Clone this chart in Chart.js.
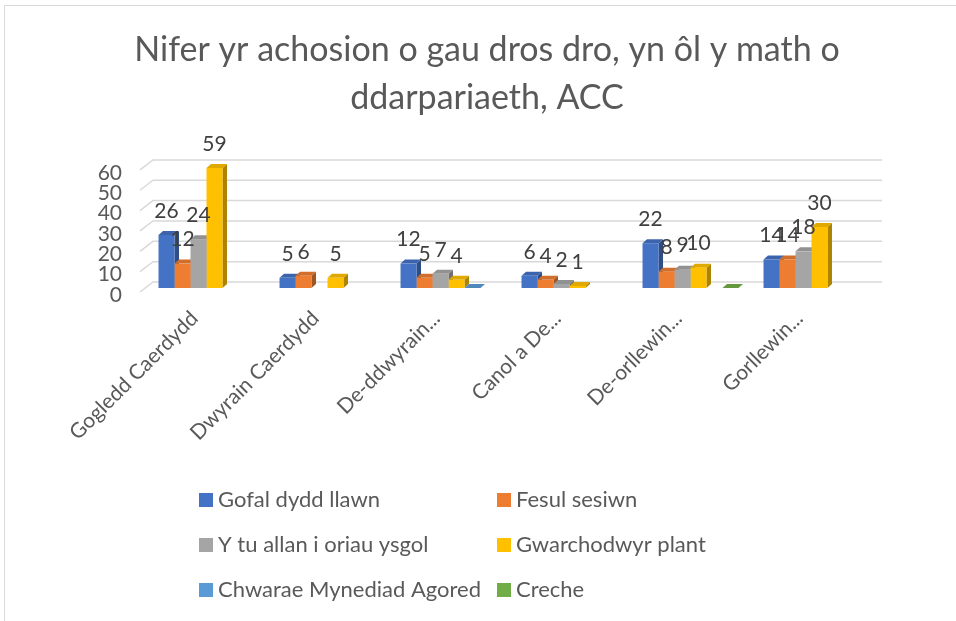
<!DOCTYPE html>
<html>
<head>
<meta charset="utf-8">
<title>Nifer yr achosion o gau dros dro</title>
<script src="https://cdn.jsdelivr.net/npm/chart.js@4.4.1/dist/chart.umd.min.js"></script>
<style>
  html, body { margin: 0; padding: 0; background: #fff; overflow: hidden; }
  /* the chart's outer frame only shows on its top and left edge */
  #frame { position: absolute; left: 4px; top: 5px; width: 1000px; height: 700px;
           border-top: 1px solid #d9d9d9; border-left: 1px solid #d9d9d9; }
  #chartWrap { position: absolute; left: 0; top: 0; width: 956px; height: 621px; }
</style>
</head>
<body>
<div id="frame"></div>
<div id="chartWrap"><canvas id="dataChart" width="956" height="621"></canvas></div>
<script>
// Data
const titleLines = ['Nifer yr achosion o gau dros dro, yn ôl y math o', 'ddarpariaeth, ACC'];
const categories = ['Gogledd Caerdydd', 'Dwyrain Caerdydd', 'De-ddwyrain...', 'Canol a De...', 'De-orllewin...', 'Gorllewin...'];
const seriesNames = ['Gofal dydd llawn', 'Fesul sesiwn', 'Y tu allan i oriau ysgol', 'Gwarchodwyr plant', 'Chwarae Mynediad Agored', 'Creche'];
const gofalDydd   = [26, 5, 12, 6, 22, 14];
const fesulSesiwn = [12, 6, 5, 4, 8, 14];
const tuAllan     = [24, null, 7, 2, 9, 18];
const gwarchodwyr = [59, 5, 4, 1, 10, 30];
const chwarae     = [null, null, 0, null, null, null];
const creche      = [null, null, null, null, 0, null];
const yTicks = [0, 10, 20, 30, 40, 50, 60];

const seriesColors = ['#4472c4', '#ed7d31', '#a5a5a5', '#ffc000', '#5b9bd5', '#70ad47'];
const seriesValues = [gofalDydd, fesulSesiwn, tuAllan, gwarchodwyr, chwarae, creche];

const FONT = "Lato, 'Open Sans', sans-serif";
const TEXT = '#595959';
const depthX = 4.5;   // fake 3d depth of the bars
const depthY = 4;

Chart.defaults.font.family = FONT;
Chart.defaults.color = TEXT;

// darken a hex colour by a factor
function shade(hex, f) {
  const n = parseInt(hex.slice(1), 16);
  const r = Math.round(((n >> 16) & 255) * f);
  const g = Math.round(((n >> 8) & 255) * f);
  const b = Math.round((n & 255) * f);
  return `rgb(${r},${g},${b})`;
}

// gridlines drawn on the back wall with a slanted bit on the floor edge
const floorGrid = {
  id: 'floorGrid',
  beforeDatasetsDraw(chart) {
    const ctx = chart.ctx;
    const area = chart.chartArea;
    const y = chart.scales.y;
    ctx.save();
    ctx.strokeStyle = '#d9d9d9';
    ctx.lineWidth = 1.5;
    yTicks.forEach(v => {
      const py = y.getPixelForValue(v);
      ctx.beginPath();
      ctx.moveTo(area.left - 6, py + 4);
      ctx.lineTo(area.left + 7, py - 6);
      ctx.lineTo(area.right + 10, py - 6);
      ctx.stroke();
    });
    ctx.restore();
  }
};

// side and top faces, drawn before the flat fronts so the next bar covers them
const barFaces = {
  id: 'barFaces',
  beforeDatasetsDraw(chart) {
    const ctx = chart.ctx;
    ctx.save();
    chart.data.datasets.forEach((ds, i) => {
      const meta = chart.getDatasetMeta(i);
      meta.data.forEach((bar, j) => {
        if (ds.data[j] === null) return;
        const left = bar.x - bar.width / 2;
        const right = bar.x + bar.width / 2;
        const top = bar.y;
        const base = bar.base;
        // right side
        ctx.fillStyle = shade(ds.backgroundColor, 0.68);
        ctx.beginPath();
        ctx.moveTo(right, base);
        ctx.lineTo(right + depthX, base - depthY);
        ctx.lineTo(right + depthX, top - depthY);
        ctx.lineTo(right, top);
        ctx.closePath();
        ctx.fill();
        // top
        ctx.fillStyle = shade(ds.backgroundColor, 0.88);
        ctx.beginPath();
        ctx.moveTo(left, top);
        ctx.lineTo(right, top);
        ctx.lineTo(right + depthX, top - depthY);
        ctx.lineTo(left + depthX, top - depthY);
        ctx.closePath();
        ctx.fill();
      });
    });
    ctx.restore();
  }
};

// value labels above each bar
const valueLabels = {
  id: 'valueLabels',
  afterDatasetsDraw(chart) {
    const ctx = chart.ctx;
    ctx.save();
    ctx.font = `21px ${FONT}`;
    ctx.fillStyle = '#404040';
    ctx.textAlign = 'center';
    ctx.textBaseline = 'middle';
    chart.data.datasets.forEach((ds, i) => {
      chart.getDatasetMeta(i).data.forEach((bar, j) => {
        const v = ds.data[j];
        if (v === null || v === 0) return;
        ctx.fillText(String(v), bar.x, bar.y - 24);
      });
    });
    ctx.restore();
  }
};

// legend in two columns under the chart
const gridLegend = {
  id: 'gridLegend',
  afterDraw(chart) {
    const ctx = chart.ctx;
    const colX = [199, 497];
    const rowY = [500, 545, 590];
    ctx.save();
    ctx.font = `22px ${FONT}`;
    ctx.textBaseline = 'middle';
    ctx.textAlign = 'left';
    chart.data.datasets.forEach((ds, i) => {
      const x = colX[i % 2];
      const y = rowY[Math.floor(i / 2)];
      ctx.fillStyle = ds.backgroundColor;
      ctx.fillRect(x, y - 7, 14, 14);
      ctx.fillStyle = TEXT;
      ctx.fillText(ds.label, x + 19, y);
    });
    ctx.restore();
  }
};

function createChart() {
  const ctx = document.getElementById('dataChart').getContext('2d');
  const datasets = seriesNames.map((name, i) => ({
    label: name,
    data: seriesValues[i],
    backgroundColor: seriesColors[i],
    borderWidth: 0,
    categoryPercentage: 0.793,
    barPercentage: 1.0
  }));

  new Chart(ctx, {
    type: 'bar',
    data: { labels: categories, datasets: datasets },
    options: {
      responsive: false,
      animation: false,
      layout: { padding: { left: 18, right: 0, top: 0, bottom: 173 } },
      plugins: {
        legend: { display: false },
        tooltip: { enabled: false },
        title: {
          display: true,
          text: titleLines,
          color: TEXT,
          font: { size: 34, weight: 'normal', lineHeight: 1.41 },
          padding: { top: 26, bottom: 44 }
        }
      },
      scales: {
        x: {
          grid: { display: false },
          border: { display: false },
          ticks: {
            color: TEXT,
            font: { size: 21 },
            minRotation: 45,
            maxRotation: 45,
            padding: 10,
            labelOffset: -12
          },
          afterFit: scale => { scale.height = 160; }
        },
        y: {
          min: 0,
          max: 60,
          grid: { display: false },
          border: { display: false },
          ticks: {
            stepSize: 10,
            autoSkip: false,
            color: TEXT,
            font: { size: 21 },
            padding: 16,
            labelOffset: 7
          },
          afterFit: scale => { scale.width = 128; }
        },
        // empty axis on the right, only keeps the plot clear of the right edge
        yRight: {
          position: 'right',
          grid: { display: false },
          border: { display: false },
          ticks: { display: false },
          afterFit: scale => { scale.width = 84; }
        }
      }
    },
    plugins: [floorGrid, barFaces, valueLabels, gridLegend]
  });
  console.log('Chart created.');
}

createChart();
</script>
</body>
</html>
